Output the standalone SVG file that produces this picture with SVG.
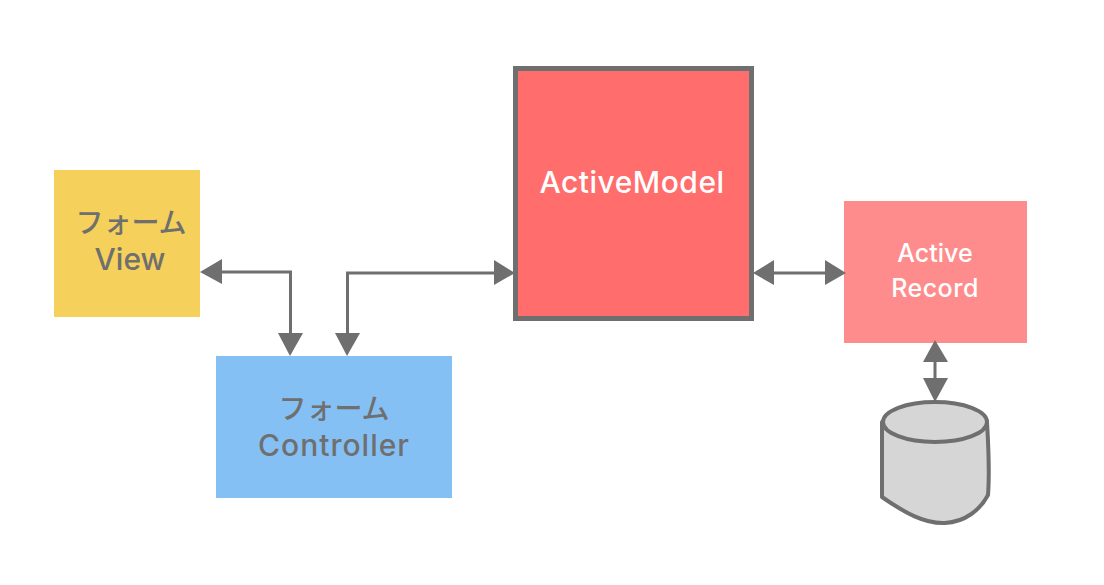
<svg xmlns="http://www.w3.org/2000/svg" width="1104" height="585" viewBox="0 0 1104 585">
<style>
.t{font-family:"Inter","Noto Sans CJK JP",sans-serif;text-anchor:middle;font-weight:500}
.g{fill:#6f6f6f}
.w{fill:#fff}
.c{fill:none;stroke:#6f6f6f;stroke-width:3}
.h{fill:#6f6f6f}
</style>
<rect width="1104" height="585" fill="#fff"/>
<g id="view">
<rect x="54" y="170" width="146" height="147" fill="#f5d05a"/>
<text class="t g" x="131" y="233" font-size="28">フォーム</text>
<text class="t g" x="130" y="270" font-size="30">View</text>
</g>
<g id="controller">
<rect x="216" y="356" width="236" height="142" fill="#85c0f5"/>
<text class="t g" x="334" y="419" font-size="28">フォーム</text>
<text class="t g" x="334" y="456" font-size="30" letter-spacing="1">Controller</text>
</g>
<g id="activemodel">
<rect x="515.500" y="68.500" width="236" height="250" fill="#ff6d6d" stroke="#6f6f6f" stroke-width="5"/>
<text class="t w" x="632" y="192.500" font-size="30" letter-spacing="0.5">ActiveModel</text>
</g>
<g id="activerecord">
<rect x="844" y="201" width="183" height="142" fill="#ff8c8c"/>
<text class="t w" x="935" y="262" font-size="25">Active</text>
<text class="t w" x="935" y="297" font-size="25" letter-spacing="0.5">Record</text>
</g>
<g id="database">
<path d="M882 422 L882 497 C905 513 925 524 945 523 C965 522 980 510 988 495 C990 470 988 440 987 422 Z" fill="#d6d6d6" stroke="#6f6f6f" stroke-width="4" stroke-linejoin="round"/>
<ellipse cx="935" cy="422" rx="52" ry="20" fill="#d6d6d6" stroke="#6f6f6f" stroke-width="4"/>
</g>
<g id="connectors">
<path class="c" d="M222 272H290.500V338"/>
<path class="h" d="M200 272L222 259V284Z"/>
<path class="h" d="M290 356L278 333H303Z"/>
<path class="c" d="M347.500 338V273H497"/>
<path class="h" d="M347 356L335 333H360Z"/>
<path class="h" d="M515 273L494 260V285Z"/>
<path class="c" d="M772 273H826"/>
<path class="h" d="M753 273L774 260V285Z"/>
<path class="h" d="M846 273L825 260V285Z"/>
<path class="c" d="M935 360V384"/>
<path class="h" d="M935 340L923 362H948Z"/>
<path class="h" d="M935 402L923 378H948Z"/>
</g>
</svg>
